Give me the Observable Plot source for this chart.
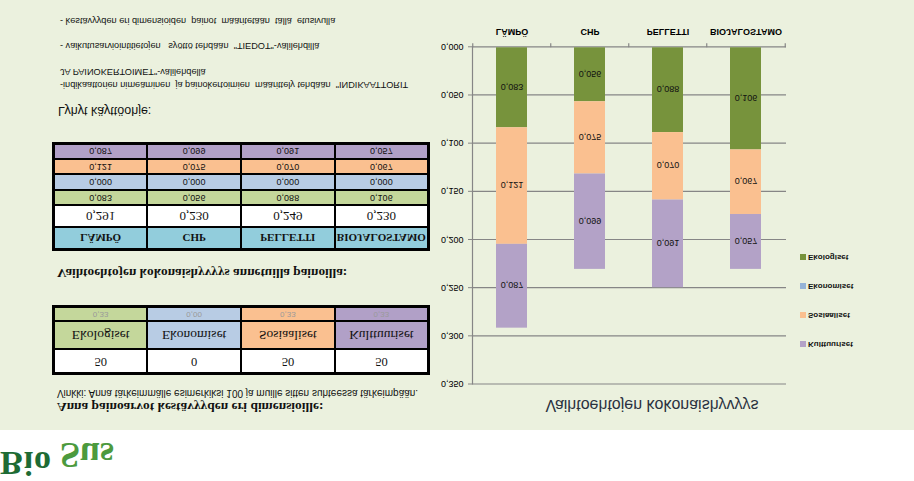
<!DOCTYPE html>
<html><head><meta charset="utf-8">
<script src="https://cdn.jsdelivr.net/npm/d3@7"></script>
<script src="https://cdn.jsdelivr.net/npm/@observablehq/plot@0.6"></script>
<style>
html,body{margin:0;padding:0;background:#fff;}
#page{position:relative;width:914px;height:481px;overflow:hidden;transform:scaleY(-1);font-family:"Liberation Sans",Arial,sans-serif;color:#111;}
#green{position:absolute;left:0;top:51px;width:914px;height:430px;background:#EBF1DE;}
.abs{position:absolute;white-space:pre;}
table{position:absolute;border-collapse:collapse;table-layout:fixed;border:3px solid #000;}
td{border:2px solid #000;padding:0;text-align:center;overflow:hidden;white-space:nowrap;}
.serif{font-family:"Liberation Serif","Times New Roman",serif;}
</style></head><body>
<div id="page">
  <div id="green"></div>
  <div id="logo"></div>
  <div id="texts"></div>
  <table id="t2"></table>
  <table id="t1"></table>
  <div id="chart" class="abs" style="left:430px;top:90px;"></div>
  <div id="title" class="abs" style="left:452px;top:66px;width:400px;text-align:center;font-size:16px;line-height:20px;color:#2a3140;">Vaihtoehtojen kokonaishyvyys</div>
  <div id="legend"></div>
</div>
<script>
const categories = ["LÄMPÖ","CHP","PELLETTI","BIOJALOSTAMO"];
const dimensions = ["Ekologiset","Ekonomiset","Sosiaaliset","Kulttuuriset"];
const ekologiset = [0.083,0.056,0.088,0.106];
const ekonomiset = [0.000,0.000,0.000,0.000];
const sosiaaliset = [0.121,0.075,0.070,0.067];
const kulttuuriset = [0.087,0.099,0.091,0.057];
const totals = [0.291,0.230,0.249,0.230];
const weights = [50,0,50,50];
const barColors = ["#77933C","#95B3D7","#FAC090","#B3A2C7"];
const cellColors = ["#C4D79B","#B8CCE4","#FAC090","#B1A0C7"];
const headerColor = "#92CDDC";
const yTicks = [0,0.05,0.10,0.15,0.20,0.25,0.30,0.35];
const instructions = [
  "Lyhyt käyttöohje:",
  "-indikaattorien nimeäminen  ja painokertoimien  määrittely tehdään  \"INDIKAATTORIT",
  "JA PAINOKERTOIMET\"-välilehdellä",
  "- vaikutusarviointitietojen   syöttö tehdään  \"TIEDOT\"-välilehdillä",
  "- kestävyyden eri dimensioiden  painot  määritetään  tällä  etusivulla"
];
const headings = ["Anna painoarvot kestävyyden eri dimensioille:",
  "Vinkki: Anna tärkeimmälle esimerkiksi 100 ja muille sitten suhteessa tärkeimpään.",
  "Vaihtoehtojen kokonaishyvyys annetuilla painoilla:"];

const series = [ekologiset, ekonomiset, sosiaaliset, kulttuuriset];
const fmt = v => v.toFixed(3).replace(".", ",");

// texts
const T = document.getElementById("texts");
function addText(txt, left, top, style){
  const d = document.createElement("div");
  d.className = "abs"; d.textContent = txt;
  d.style.left = left + "px"; d.style.top = top + "px";
  Object.assign(d.style, style); T.appendChild(d);
}
addText(instructions[0], 58, 363, {fontSize:"12.5px", lineHeight:"15px"});
addText(instructions[1], 60, 391, {fontSize:"9.2px", lineHeight:"11px"});
addText(instructions[2], 60, 404, {fontSize:"9.2px", lineHeight:"11px"});
addText(instructions[3], 60, 430, {fontSize:"9.2px", lineHeight:"11px"});
addText(instructions[4], 60, 455, {fontSize:"9.2px", lineHeight:"11px"});
addText(headings[0], 57, 66, {fontSize:"13.4px", lineHeight:"16px", fontWeight:"bold", fontFamily:"Liberation Serif, serif"});
addText(headings[1], 57, 82, {fontSize:"10px", lineHeight:"12px"});
addText(headings[2], 57, 200, {fontSize:"13.3px", lineHeight:"16px", fontWeight:"bold", fontFamily:"Liberation Serif, serif"});

// table 2 (weights)
const sumW = d3.sum(weights);
const t2 = document.getElementById("t2");
t2.style.left = "52px"; t2.style.top = "106px"; t2.style.width = "378px";
let html = "<tr style='height:24px'>" + weights.map(w => `<td class='serif' style='background:#fff;font-size:12.5px'>${w}</td>`).join("") + "</tr>";
html += "<tr style='height:28px'>" + dimensions.map((d,i) => `<td class='serif' style='background:${cellColors[i]};font-size:13.5px'>${d}</td>`).join("") + "</tr>";
html += "<tr style='height:15px'>" + weights.map((w,i) => `<td style='background:${cellColors[i]};font-size:8px;color:#9a9a9a'>${(w/sumW).toFixed(2).replace(".",",")}</td>`).join("") + "</tr>";
t2.innerHTML = html;

// table 1 (results)
const t1 = document.getElementById("t1");
t1.style.left = "52px"; t1.style.top = "230px"; t1.style.width = "378px";
html = "<tr style='height:22px'>" + categories.map(c => `<td class='serif' style='background:${headerColor};font-size:11px;font-weight:bold'>${c}</td>`).join("") + "</tr>";
html += "<tr style='height:22px'>" + totals.map(v => `<td class='serif' style='background:#fff;font-size:13px'>${fmt(v)}</td>`).join("") + "</tr>";
series.forEach((s,j) => {
  html += "<tr style='height:15.5px'>" + s.map(v => `<td style='background:${cellColors[j]};font-size:9px'>${fmt(v)}</td>`).join("") + "</tr>";
});
t1.innerHTML = html;

// chart
const W = 484, H = 391, mL = 42, mR = 128;
const step = (W - mL - mR) / categories.length;
const rows = [];
dimensions.forEach((dim, j) => series[j].forEach((v, i) => rows.push({cat: categories[i], dim, value: v})));
const chart = Plot.plot({
  width: W, height: H,
  marginLeft: mL, marginRight: mR, marginTop: 6.5, marginBottom: 47.3,
  style: {background: "transparent", fontFamily: "Liberation Sans, Arial, sans-serif", fontSize: "9px", color: "#000"},
  x: {domain: categories, paddingInner: 0.6, paddingOuter: 0.3, label: null},
  y: {domain: [0, 0.35], label: null},
  color: {domain: dimensions, range: barColors},
  marks: [
    Plot.ruleY(yTicks, {stroke: "#868686", strokeWidth: 1.2}),
    Plot.barY(rows, {x: "cat", y: "value", fill: "dim", z: "dim"}),
    Plot.text(rows, Plot.stackY({x: "cat", y: "value", z: "dim", text: d => fmt(d.value), filter: d => d.value > 0, fill: "#111", fontSize: 9})),
    Plot.frame({anchor: "left", stroke: "#868686", strokeWidth: 1.2}),
    Plot.ruleX(categories, {x: d => d, y1: 0, y2: 0, insetBottom: -4, dx: -step / 2, stroke: "#868686", strokeWidth: 1.2}),
    Plot.ruleX(categories.slice(-1), {x: d => d, y1: 0, y2: 0, insetBottom: -4, dx: step / 2, stroke: "#868686", strokeWidth: 1.2}),
    Plot.axisY({ticks: yTicks, tickFormat: fmt, tickSize: 4, tickPadding: 5, stroke: "#868686", fill: "#000"}),
    Plot.axisX({tickSize: 0, tickPadding: 11, fontWeight: "bold", fill: "#000"})
  ]
});
document.getElementById("chart").appendChild(chart);

// legend
const L = document.getElementById("legend");
const legendTops = [220, 191, 162, 133];
dimensions.forEach((d, j) => {
  const sw = document.createElement("div");
  sw.className = "abs";
  Object.assign(sw.style, {left: "800px", top: (legendTops[j] + 1) + "px", width: "6px", height: "6px", background: barColors[j]});
  L.appendChild(sw);
  addText(d, 808, legendTops[j] - 1, {fontSize: "8px", lineHeight: "10px", fontWeight: "bold"});
});

// logo
const lg = document.getElementById("logo");
lg.innerHTML = "<div class='abs serif' style='left:0px;top:0px;font-size:34px;line-height:36px;font-weight:bold;color:#1E6B34;letter-spacing:1px'>Bio</div>" +
  "<div class='abs serif' style='left:60px;top:8px;font-size:36px;line-height:36px;font-weight:bold;color:#4C9A3E'>Sus</div>";
</script>
</body></html>
